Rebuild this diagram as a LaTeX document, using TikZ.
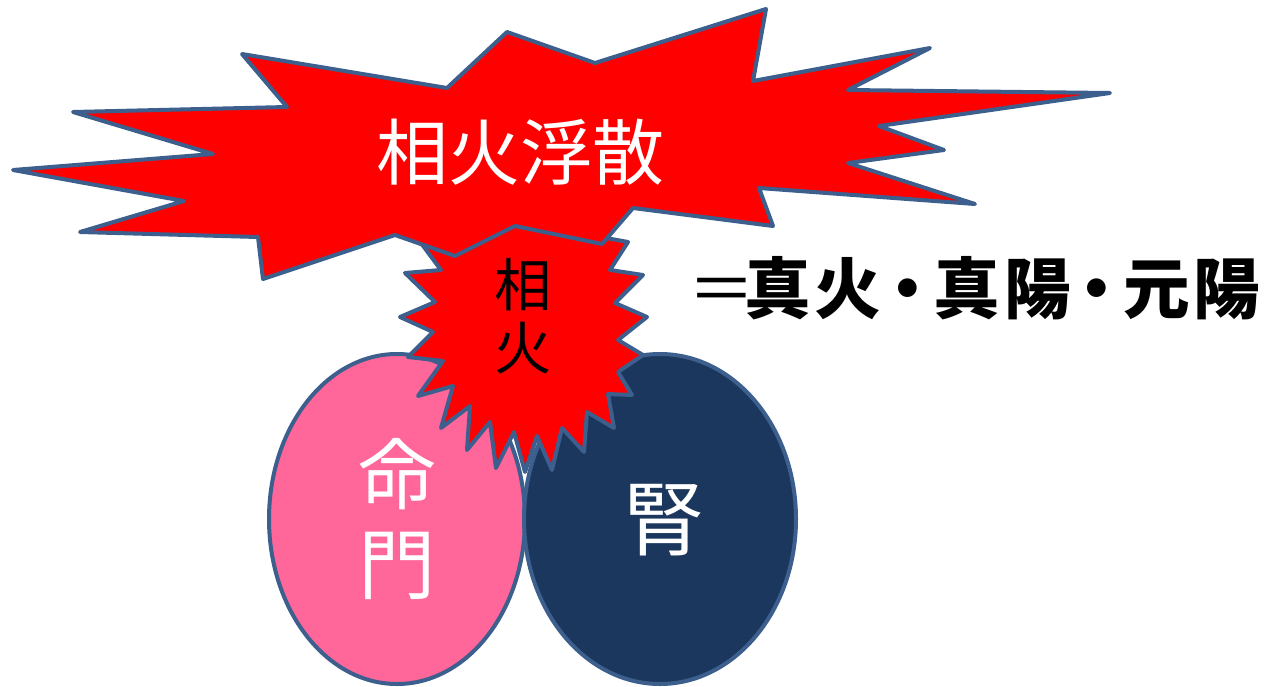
\documentclass[tikz,border=0pt]{standalone}
\usepackage{fontspec}
\setmainfont{Noto Sans CJK JP}
\newfontfamily\eqfont[LetterSpace=6]{Noto Sans CJK JP}
\newfontfamily\dotfont[RawFeature=+palt]{Noto Sans CJK JP}
\newcommand{\nakaguro}{\hspace{7pt}{\dotfont\bfseries ・}\hspace{7pt}}
\definecolor{edgeblue}{HTML}{3C5F8D}
\definecolor{firered}{HTML}{FF0000}
\definecolor{mpink}{HTML}{FF6699}
\definecolor{kdark}{HTML}{1B375E}
\tikzset{
  outline/.style={draw=edgeblue,line width=3pt,line join=round},
  burst/.style={outline,fill=firered},
  lbl/.style={inner sep=0pt,align=center},
}
\begin{document}
\begin{tikzpicture}[x=0.75pt,y=-0.75pt]
\useasboundingbox (0,0) rectangle (1268,686);
% ellipses
\path[outline,fill=mpink] (397,519) ellipse [x radius=128, y radius=165];
\path[outline,fill=kdark] (660,519) ellipse [x radius=136, y radius=165];
% small burst
\path[burst] (415,235) -- (500,225) -- (560,226) -- (595,236) -- (628,242)
 -- (610,270) -- (643,275) -- (615,303) -- (647,317) -- (618,340) -- (643,355)
 -- (618,372) -- (632,395) -- (608,394) -- (614,428) -- (587,412) -- (584,452)
 -- (562,428) -- (552,470) -- (537,436) -- (525,472) -- (514,432) -- (496,468)
 -- (490,422) -- (467,450) -- (470,406) -- (441,428) -- (453,386) -- (418,396)
 -- (443,361) -- (408,357) -- (433,332) -- (400,317) -- (435,302) -- (405,273)
 -- (441,270) -- cycle;
% big burst
\path[burst] (13,170) -- (213,154) -- (73,112) -- (287,107) -- (242,54)
 -- (447,88) -- (507,32) -- (595,63) -- (766,9) -- (753,81) -- (930,48)
 -- (848,90) -- (1110,93) -- (879,126) -- (944,150) -- (848,163) -- (975,204)
 -- (759,188) -- (773,226) -- (633,208) -- (602,244) -- (515,226) -- (455,256)
 -- (395,235) -- (263,279) -- (258,237) -- (80,232) -- (184,201) -- cycle;
% texts
\node[lbl,text=white,font=\fontsize{54}{60}\selectfont] (title) at (520,152) {相火浮散};
\node[lbl,text=black,font=\fontsize{43}{47}\selectfont] (xiang) at (523,316) {相\\火};
\node[lbl,text=white,font=\fontsize{58}{67}\selectfont] (mm) at (397,519) {命\\門};
\node[lbl,text=white,font=\fontsize{61}{67}\selectfont] (shen) at (664,520) {腎};
\node[lbl,text=black,font=\bfseries\fontsize{50}{54}\selectfont,anchor=west] (eq) at (688,288) {{\eqfont\mdseries ＝}\hspace{-8pt}{\eqfont 真火}\nakaguro{\eqfont 真陽}\nakaguro{\eqfont 元陽}};
\end{tikzpicture}
\end{document}
